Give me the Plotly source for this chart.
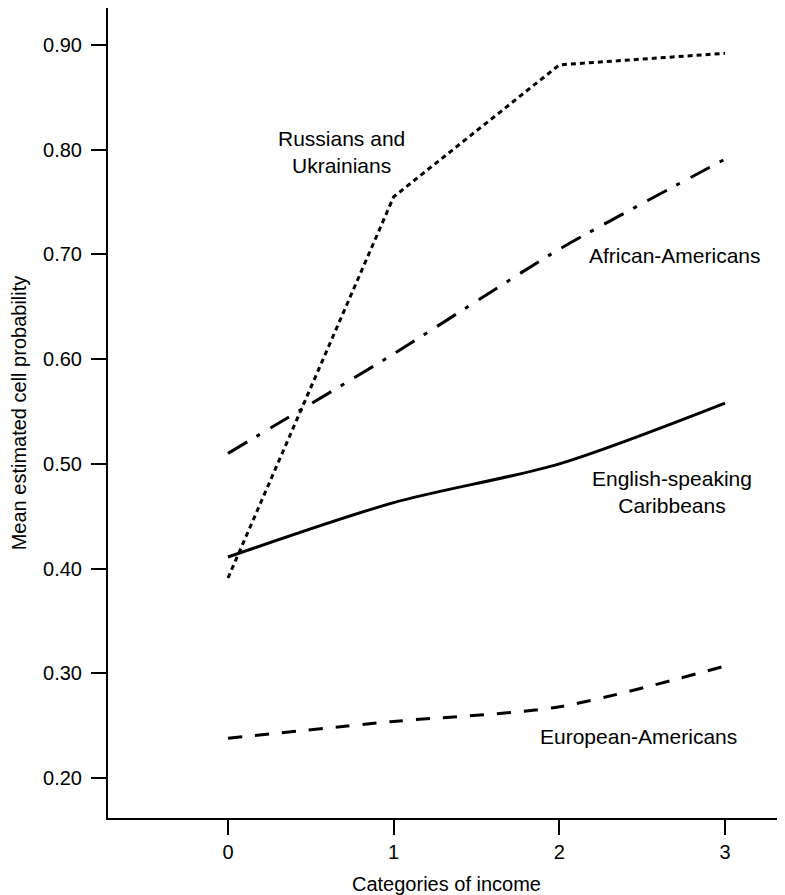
import plotly.graph_objects as go

income = [0, 1, 2, 3]
russians = [0.391, 0.755, 0.881, 0.892]
african = [0.510, 0.605, 0.705, 0.791]
caribbean = [0.411, 0.463, 0.500, 0.558]
european = [0.238, 0.254, 0.268, 0.307]

y_ticks = [0.20, 0.30, 0.40, 0.50, 0.60, 0.70, 0.80, 0.90]
y_ticktext = ["0.20", "0.30", "0.40", "0.50", "0.60", "0.70", "0.80", "0.90"]
x_ticks = [0, 1, 2, 3]

FONT = "Liberation Sans, Arial, Helvetica, sans-serif"

fig = go.Figure()
fig.add_trace(go.Scatter(x=income, y=russians, mode="lines",
                         line=dict(color="black", width=3, dash="5px,4px")))
fig.add_trace(go.Scatter(x=income, y=african, mode="lines",
                         line=dict(color="black", width=3, dash="22px,11px,4px,12px",
                                   shape="spline", smoothing=0.6)))
fig.add_trace(go.Scatter(x=income, y=caribbean, mode="lines",
                         line=dict(color="black", width=3, shape="spline", smoothing=0.8)))
fig.add_trace(go.Scatter(x=income, y=european, mode="lines",
                         line=dict(color="black", width=3, dash="14px,13px",
                                   shape="spline", smoothing=0.8)))

ann = [
    (0.688, 0.798, "Russians and<br>Ukrainians"),
    (2.698, 0.699, "African-Americans"),
    (2.680, 0.473, "English-speaking<br>Caribbeans"),
    (2.475, 0.240, "European-Americans"),
]
for x, y, t in ann:
    fig.add_annotation(x=x, y=y, xref="x", yref="y", text=t, showarrow=False,
                       font=dict(family=FONT, size=21, color="black"), align="center")

fig.update_layout(
    width=777, height=887,
    margin=dict(l=100, r=0, t=0, b=77),
    paper_bgcolor="white", plot_bgcolor="white",
    showlegend=False,
    font=dict(family=FONT, size=20, color="black"),
)
fig.update_xaxes(
    range=[-0.7243, 3.362], tickvals=x_ticks, ticktext=[str(v) for v in x_ticks],
    showline=True, linecolor="black", linewidth=2,
    ticks="outside", ticklen=15, tickwidth=2, tickcolor="black",
    showgrid=False, zeroline=False,
    title=dict(text="Categories of income", standoff=15, font=dict(size=20)),
    tickfont=dict(size=20),
)
fig.update_yaxes(
    range=[0.1618, 0.9353], tickvals=y_ticks, ticktext=y_ticktext,
    showline=True, linecolor="black", linewidth=2,
    ticks="outside", ticklen=15, tickwidth=2, tickcolor="black",
    showgrid=False, zeroline=False, ticklabelstandoff=5,
    title=dict(text="Mean estimated cell probability", standoff=16, font=dict(size=20)),
    tickfont=dict(size=20),
)

fig.write_html("out.html")
